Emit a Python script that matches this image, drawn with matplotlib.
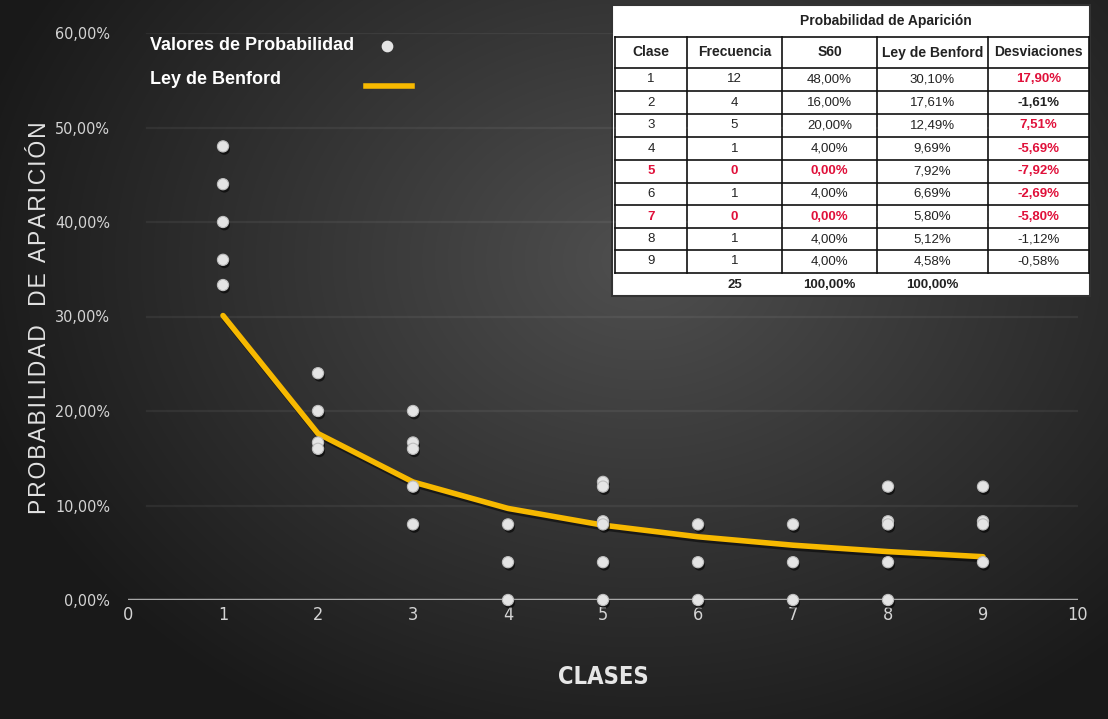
import numpy as np
import matplotlib
matplotlib.use("Agg")
import matplotlib.pyplot as plt
import matplotlib.patheffects as pe
from matplotlib.patches import Rectangle

# sample probabilities per class (in %)
clases = [1, 2, 3, 4, 5, 6, 7, 8, 9]
valores = [
    [48, 44, 40, 36, 33.33],
    [24, 20, 16.67, 16],
    [20, 16.67, 16, 12, 8],
    [8, 4, 0],
    [12.5, 12, 8.33, 8, 4, 0],
    [8, 4, 0],
    [8, 4, 0],
    [12, 8.33, 8, 4, 0],
    [12, 8.33, 8, 4],
]
benford = [30.10, 17.61, 12.49, 9.69, 7.92, 6.69, 5.80, 5.12, 4.58]

# summary table
tabla_titulo = "Probabilidad de Aparición"
tabla_cols = ["Clase", "Frecuencia", "S60", "Ley de Benford", "Desviaciones"]
frecuencia = [12, 4, 5, 1, 0, 1, 0, 1, 1]
s60 = ["48,00%", "16,00%", "20,00%", "4,00%", "0,00%", "4,00%", "0,00%", "4,00%", "4,00%"]
ley = ["30,10%", "17,61%", "12,49%", "9,69%", "7,92%", "6,69%", "5,80%", "5,12%", "4,58%"]
desv = ["17,90%", "-1,61%", "7,51%", "-5,69%", "-7,92%", "-2,69%", "-5,80%", "-1,12%", "-0,58%"]
totales = ["", "25", "100,00%", "100,00%", ""]

W, H = 1108, 719
fig = plt.figure(figsize=(W / 100, H / 100), dpi=100)

# dark background with a soft light spot
bg = fig.add_axes([0, 0, 1, 1])
yy, xx = np.mgrid[0:H, 0:W]
r = np.sqrt(((xx - 640) / 620.0) ** 2 + ((yy - 260) / 480.0) ** 2)
shade = np.clip(0.31 - 0.19 * r, 0.1, 0.32)
bg.imshow(np.dstack([shade] * 3), extent=[0, W, H, 0], aspect="auto")
bg.set_axis_off()

cond = dict(family="DejaVu Sans", fontstretch="condensed")

ax = fig.add_axes([128 / W, 1 - 600 / H, 950 / W, 567 / H])
ax.patch.set_alpha(0)
ax.set_xlim(0, 10)
ax.set_ylim(0, 60)
for s in ax.spines.values():
    s.set_visible(False)
ax.set_yticks(np.arange(0, 61, 10))
ax.set_yticklabels([f"{v:.2f}%".replace(".", ",") for v in np.arange(0, 61, 10)],
                   fontsize=11.5, color="#d4d4d4", **cond)
ax.set_xticks(range(11))
ax.set_xticklabels([str(i) for i in range(11)], fontsize=13, color="#d4d4d4", **cond)
ax.tick_params(length=0)
ax.tick_params(axis="x", pad=4)
ax.tick_params(axis="y", pad=13)
for v in range(10, 61, 10):
    ax.axhline(v, xmin=0.02, color="white", alpha=0.06, lw=1.6, zorder=1)
ax.axhline(0, color="#a8a8a8", lw=2.5, zorder=2)

shadow = [pe.SimpleLineShadow(offset=(1, -2), shadow_color="black", alpha=0.5), pe.Normal()]
ax.plot(clases, benford, color="#f7b900", lw=4, solid_joinstyle="round",
        solid_capstyle="round", zorder=3, path_effects=shadow)

px, py = [], []
for c, vals in zip(clases, valores):
    px += [c] * len(vals)
    py += vals
pts = ax.scatter(px, py, s=65, color="#e4e4e4", edgecolor="#bdbdbd", lw=0.8, zorder=4, clip_on=False)
pts.set_path_effects([pe.SimplePatchShadow(offset=(1, -2), shadow_rgbFace="black", alpha=0.6), pe.Normal()])

ax.set_xlabel("CLASES", fontsize=17, fontweight="bold", color="#e6e6e6", labelpad=30, **cond)
ylabel = "\u200a".join("PROBABILIDAD  DE APARICIÓN")
fig.text(40 / W, 1 - 318 / H, ylabel, rotation=90, fontsize=16.5,
         color="#e2e2e2", family="Liberation Sans", ha="center", va="center")

# legend
fig.text(150 / W, 1 - 46 / H, "Valores de Probabilidad", fontsize=13, fontweight="bold",
         color="white", family="Liberation Sans", va="center")
fig.text(150 / W, 1 - 80 / H, "Ley de Benford", fontsize=13, fontweight="bold",
         color="white", family="Liberation Sans", va="center")
bg.scatter([387], [46], s=55, color="#e4e4e4", zorder=5)
bg.plot([366, 412], [86, 86], color="#f7b900", lw=4, zorder=5)
bg.set_xlim(0, W)
bg.set_ylim(H, 0)

# table drawn in pixel coordinates on the background axes
col_x = [615, 687, 782, 877, 988, 1089]
row_y = [37, 68, 91, 114, 137, 160, 183, 205, 228, 250, 273, 296]
red = "#e0103a"
bg.add_patch(Rectangle((612, 5), 478, 291, facecolor="white", edgecolor="#333333", lw=1.5, zorder=6))
bg.text(886, 21, tabla_titulo, fontsize=10, fontweight="bold", color="#222222",
        ha="center", va="center", family="Liberation Sans", zorder=8)
for y in row_y[:-1]:
    bg.plot([col_x[0], col_x[-1]], [y, y], color="#111111", lw=1.2, zorder=7)
for x in col_x:
    bg.plot([x, x], [row_y[0], row_y[-2]], color="#111111", lw=1.2, zorder=7)
for j, name in enumerate(tabla_cols):
    bg.text((col_x[j] + col_x[j + 1]) / 2, (row_y[0] + row_y[1]) / 2, name, fontsize=10,
            fontweight="bold", color="#222222", ha="center", va="center",
            family="Liberation Sans", zorder=8)

desv_red = [True, False, True, True, True, True, True, False, False]
desv_bold = [True, True, True, True, True, True, True, False, False]
for i in range(9):
    yc = (row_y[i + 1] + row_y[i + 2]) / 2
    cero = frecuencia[i] == 0
    row = [str(clases[i]), str(frecuencia[i]), s60[i], ley[i], desv[i]]
    for j, txt in enumerate(row):
        color, weight = "#222222", "normal"
        if j < 3 and cero:
            color, weight = red, "bold"
        if j == 4:
            color = red if desv_red[i] else "#222222"
            weight = "bold" if desv_bold[i] else "normal"
        bg.text((col_x[j] + col_x[j + 1]) / 2, yc, txt, fontsize=9.5, fontweight=weight,
                color=color, ha="center", va="center", family="Liberation Sans", zorder=8)
yc = (row_y[-2] + row_y[-1]) / 2
for j, txt in enumerate(totales):
    if txt:
        bg.text((col_x[j] + col_x[j + 1]) / 2, yc, txt, fontsize=9.5, fontweight="bold",
                color="#222222", ha="center", va="center", family="Liberation Sans", zorder=8)

fig.savefig("out.png", dpi=100)
